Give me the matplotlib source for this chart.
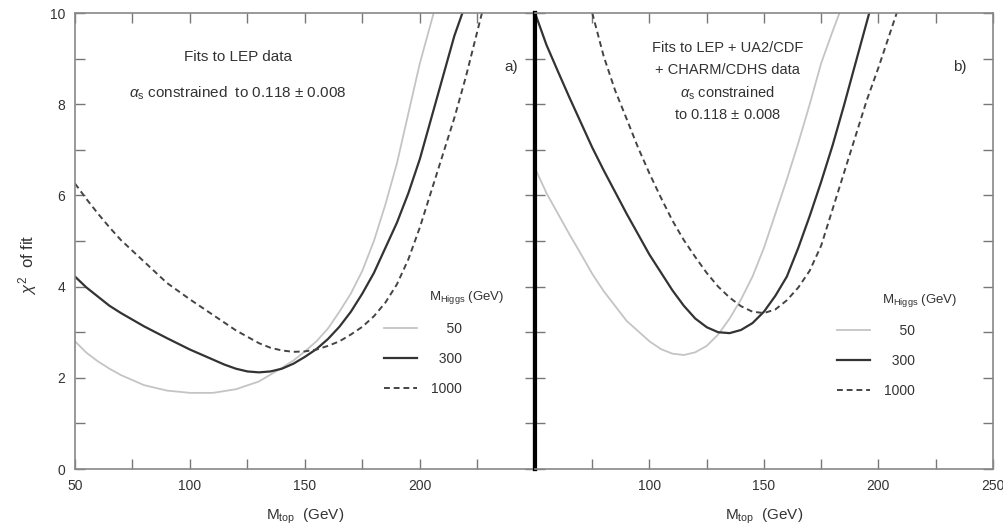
import matplotlib.pyplot as plt

plt.rcParams["font.family"] = ["Liberation Sans", "DejaVu Sans"]
plt.rcParams["mathtext.fontset"] = "custom"
plt.rcParams["mathtext.rm"] = "Liberation Sans"
plt.rcParams["mathtext.it"] = "Liberation Sans:italic"

# a) LEP 데이터만 사용한 fit
mt_a_50 = [50, 55, 60, 65, 70, 80, 90, 100, 110, 120, 130, 140, 145, 150, 155, 160,
           165, 170, 175, 180, 185, 190, 195, 200, 206]
chi_a_50 = [2.80, 2.55, 2.36, 2.20, 2.06, 1.84, 1.72, 1.67, 1.67, 1.75, 1.92, 2.22,
            2.38, 2.58, 2.80, 3.08, 3.45, 3.85, 4.35, 5.0, 5.8, 6.7, 7.8, 8.9, 10.0]
mt_a_300 = [50, 55, 60, 65, 70, 80, 90, 100, 110, 115, 120, 125, 130, 135, 140, 145,
            150, 155, 160, 165, 170, 175, 180, 185, 190, 195, 200, 205, 210, 215,
            218.5]
chi_a_300 = [4.22, 3.98, 3.78, 3.58, 3.42, 3.13, 2.87, 2.62, 2.40, 2.29, 2.20, 2.14,
             2.12, 2.14, 2.20, 2.31, 2.46, 2.63, 2.85, 3.12, 3.45, 3.85, 4.3, 4.85,
             5.4, 6.05, 6.8, 7.7, 8.6, 9.5, 10.0]
mt_a_1000 = [50, 55, 60, 65, 70, 80, 90, 100, 110, 120, 130, 135, 140, 145, 150, 155,
             160, 165, 170, 175, 180, 185, 190, 195, 200, 205, 210, 215, 220, 227]
chi_a_1000 = [6.26, 5.92, 5.6, 5.3, 5.02, 4.55, 4.08, 3.72, 3.38, 3.04, 2.76, 2.66,
              2.6, 2.57, 2.58, 2.62, 2.7, 2.8, 2.95, 3.12, 3.35, 3.65, 4.05, 4.6,
              5.3, 6.1, 6.9, 7.7, 8.6, 10.0]

# b) LEP + UA2/CDF + CHARM/CDHS
mt_b_50 = [50, 55, 60, 65, 70, 75, 80, 90, 100, 105, 110, 115, 120, 125, 130,
           135, 140, 145, 150, 155, 160, 165, 170, 175, 180, 183]
chi_b_50 = [6.6, 6.05, 5.6, 5.15, 4.72, 4.28, 3.9, 3.25, 2.8, 2.63, 2.53, 2.5,
            2.56, 2.7, 2.95, 3.3, 3.72, 4.22, 4.85, 5.6, 6.35, 7.15, 8.0, 8.9,
            9.6, 10.0]
mt_b_300 = [50, 55, 60, 65, 70, 75, 80, 90, 100, 110, 115, 120, 125, 130, 135, 140,
            145, 150, 155, 160, 165, 170, 175, 180, 185, 190, 196]
chi_b_300 = [10.0, 9.3, 8.72, 8.15, 7.6, 7.05, 6.55, 5.6, 4.7, 3.92, 3.58, 3.3, 3.11,
             3.0, 2.98, 3.05, 3.2, 3.45, 3.8, 4.22, 4.85, 5.55, 6.3, 7.1, 7.98,
             8.9, 10.0]
mt_b_1000 = [75, 80, 85, 90, 95, 100, 105, 110, 115, 120, 125, 130, 135, 140, 145,
             150, 155, 160, 165, 170, 175, 180, 185, 190, 195, 200, 204, 208]
chi_b_1000 = [10.0, 9.05, 8.3, 7.68, 7.05, 6.48, 5.95, 5.45, 5.02, 4.65, 4.3, 4.0,
              3.76, 3.57, 3.45, 3.42, 3.5, 3.7, 3.98, 4.35, 4.9, 5.7, 6.5, 7.3,
              8.1, 8.8, 9.4, 10.0]

higgs_labels = ["50", "300", "1000"]
x_ticks = [50, 75, 100, 125, 150, 175, 200, 225, 250]
x_labels_a = ["50", "", "100", "", "150", "", "200", "", ""]
x_labels_b = ["", "", "100", "", "150", "", "200", "", "250"]
y_ticks = list(range(0, 11))
y_labels = ["0", "", "2", "", "4", "", "6", "", "8", "", "10"]

# 선 스타일: 50 = 연한 회색, 300 = 실선, 1000 = 점선
styles = [
    dict(color="#c4c4c4", lw=1.3, ls="-"),
    dict(color="#333333", lw=1.6, ls="-"),
    dict(color="#444444", lw=1.4, ls=(0, (3, 2))),
]

fig = plt.figure(figsize=(10.04, 5.27), dpi=100)
ax_a = fig.add_axes([0.0747, 0.110, 0.458, 0.8653])
ax_b = fig.add_axes([0.5329, 0.110, 0.456, 0.8653])

panels = [
    (ax_a, [(mt_a_50, chi_a_50), (mt_a_300, chi_a_300), (mt_a_1000, chi_a_1000)]),
    (ax_b, [(mt_b_50, chi_b_50), (mt_b_300, chi_b_300), (mt_b_1000, chi_b_1000)]),
]

handles_by_ax = {}
for ax, curves in panels:
    handles = []
    for (x, y), st in zip(curves, styles):
        (h,) = ax.plot(x, y, solid_joinstyle="round", **st)
        handles.append(h)
    handles_by_ax[ax] = handles
    ax.set_xlim(50, 250)
    ax.set_ylim(0, 10)
    ax.set_xticks(x_ticks)
    ax.set_yticks(y_ticks)
    ax.tick_params(direction="in", length=7, width=1, color="#777777",
                   top=True, right=True, labelsize=10, labelcolor="#333333", pad=7)
    for sp in ax.spines.values():
        sp.set_color("#888888")
        sp.set_linewidth(1.2)
    ax.set_xlabel(r"M$_{\rm top}$  (GeV)", fontsize=11, color="#333333")
    ax.xaxis.set_label_coords(0.5, -0.083)

ax_a.set_xticklabels(x_labels_a)
ax_a.set_yticklabels(y_labels)
ax_b.set_xticklabels(x_labels_b)
ax_b.set_yticklabels([])

# 가운데 굵은 경계선
ax_a.spines["right"].set_color("black")
ax_a.spines["right"].set_linewidth(3)
ax_b.spines["left"].set_color("black")
ax_b.spines["left"].set_linewidth(3)

ax_a.set_ylabel(r"$\chi^2$  of fit", fontsize=12, color="#333333")
ax_a.yaxis.set_label_coords(-0.078, 0.447)

# 패널 a 설명 텍스트
ax_a.text(0.354, 0.904, "Fits to LEP data", transform=ax_a.transAxes,
          ha="center", va="center", fontsize=11, color="#333333")
ax_a.text(0.354, 0.825, r"$\alpha_{\rm s}$ constrained  to 0.118 $\pm$ 0.008",
          transform=ax_a.transAxes, ha="center", va="center", fontsize=11,
          color="#333333")
ax_a.text(0.948, 0.882, "a)", transform=ax_a.transAxes, ha="center", va="center",
          fontsize=11, color="#333333")

# 패널 b 설명 텍스트
b_lines = ["Fits to LEP + UA2/CDF", "+ CHARM/CDHS data",
           r"$\alpha_{\rm s}$ constrained", r"to 0.118 $\pm$ 0.008"]
for txt, yy in zip(b_lines, [0.923, 0.875, 0.825, 0.776]):
    ax_b.text(0.42, yy, txt, transform=ax_b.transAxes, ha="center", va="center",
              fontsize=10.5, color="#333333")
ax_b.text(0.928, 0.882, "b)", transform=ax_b.transAxes, ha="center", va="center",
          fontsize=11, color="#333333")

# 범례: 라벨 오른쪽 정렬은 figure space로 맞춤
pad_labels = ["\u2007" * (4 - len(s)) + s for s in higgs_labels]
for ax, lx, ly, hx, hy in [(ax_a, 0.672, 0.322, 0.852, 0.377),
                           (ax_b, 0.659, 0.318, 0.84, 0.37)]:
    ax.text(hx, hy, r"M$_{\rm Higgs}$ (GeV)", transform=ax.transAxes,
            ha="center", va="center", fontsize=9.5, color="#333333")
    leg = ax.legend(handles_by_ax[ax], pad_labels, frameon=False, loc="upper left",
                    bbox_to_anchor=(lx, ly), borderpad=0, borderaxespad=0,
                    handlelength=2.4, handletextpad=1.0, labelspacing=1.15,
                    fontsize=10)
    for t in leg.get_texts():
        t.set_color("#333333")

fig.savefig("out.png", dpi=100)
